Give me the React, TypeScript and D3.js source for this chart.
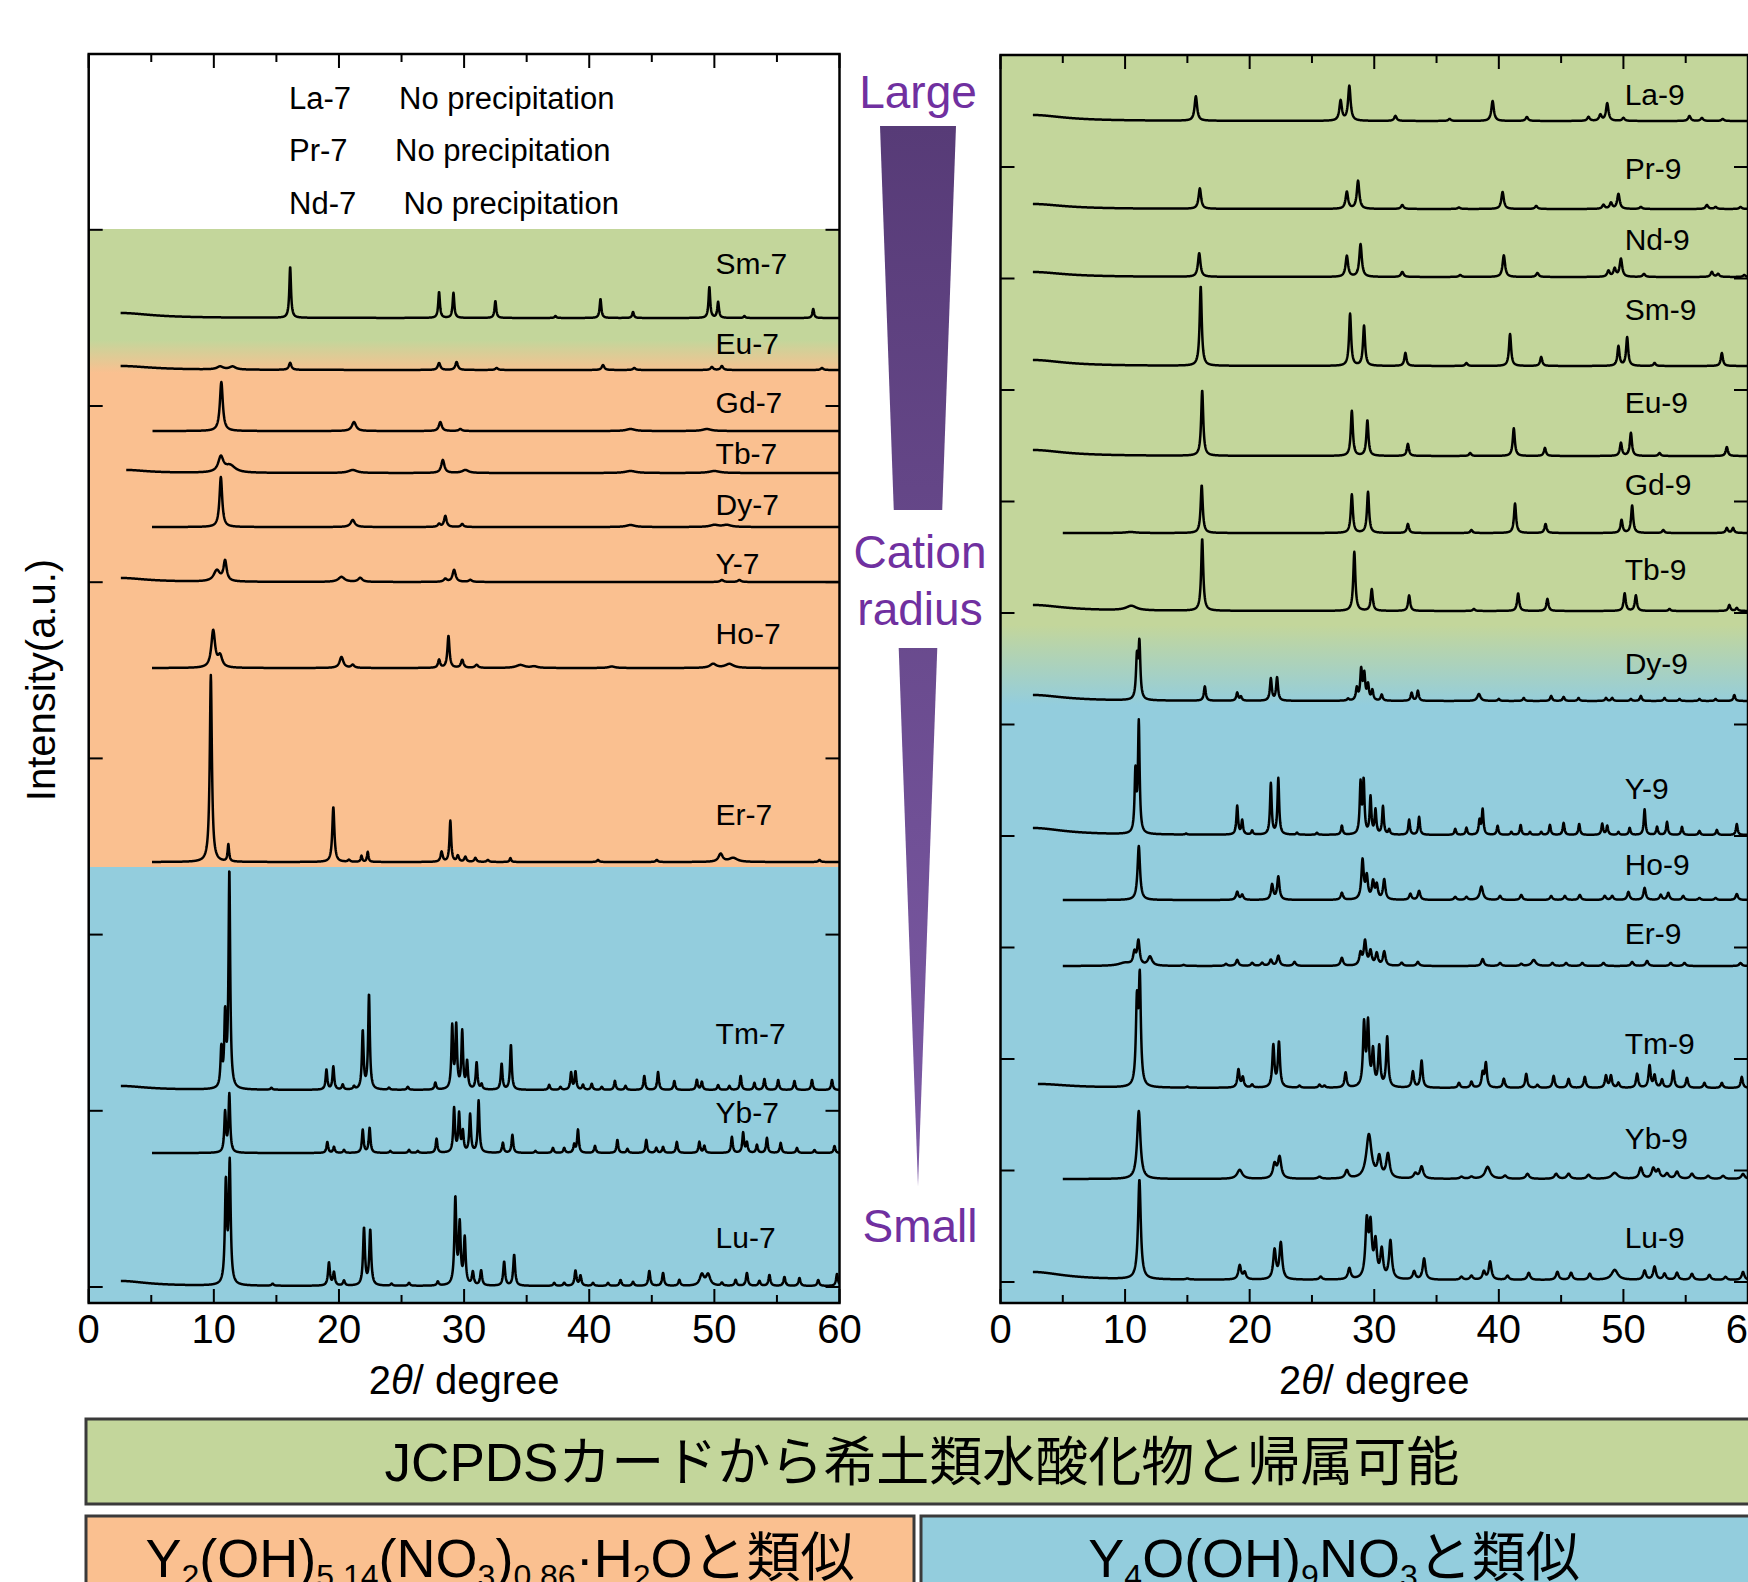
import React from "react";
import * as d3 from "d3";

const W = 1748;
const H = 1582;

// 2θ axis
const xTicks = [0, 10, 20, 30, 40, 50, 60];
const xMinor = [5, 15, 25, 35, 45, 55];

// peaks: [2θ, intensity (a.u.), half width (deg, optional)]
type Peak = number[];

// ---- left panel (pH 7) ----
const leftNames = ["Sm-7", "Eu-7", "Gd-7", "Tb-7", "Dy-7", "Y-7", "Ho-7", "Er-7", "Tm-7", "Yb-7", "Lu-7"];
const leftBase = [969, 917, 856, 814, 760, 705, 619, 425, 197, 134, 1];
const leftStart = [2.55, 2.55, 5.1, 3.0, 5.06, 2.57, 5.06, 5.06, 2.57, 5.06, 2.57];
const leftWidth = [0.08, 0.12, 0.14, 0.15, 0.12, 0.15, 0.15, 0.1, 0.08, 0.08, 0.09];
const leftLift = [55, 27, 29, 20, 23, 19, 35, 48, 57, 41, 49];
const leftPeaks: Peak[][] = [
  [[2.55, 5, 3], [16.1, 51], [28.0, 26], [29.15, 25], [32.5, 17], [37.3, 2], [40.9, 19], [43.5, 6], [49.6, 31], [50.3, 16], [52.4, 2], [57.9, 9]],
  [[2.55, 4, 3], [10.5, 3, 0.3], [11.5, 3, 0.3], [16.1, 7], [28.0, 7], [29.4, 8], [32.6, 2], [41.1, 5], [43.6, 2], [49.8, 3], [50.6, 4], [58.6, 2]],
  [[10.6, 49], [21.2, 9, 0.2], [28.1, 9], [29.7, 2], [43.3, 2, 0.4], [49.4, 2, 0.4]],
  [[3.0, 3, 2], [10.56, 15, 0.25], [11.3, 7, 0.5], [21.1, 3, 0.4], [28.3, 13, 0.15], [30.1, 3, 0.3], [43.3, 2, 0.5], [50.0, 2, 0.5]],
  [[10.56, 50, 0.13], [21.1, 7, 0.2], [28.0, 3], [28.5, 11], [29.85, 3], [43.3, 2, 0.4], [50.0, 2, 0.4], [51.0, 2, 0.4]],
  [[2.57, 4, 2.5], [10.24, 11, 0.3], [10.9, 20, 0.15], [20.2, 5, 0.3], [21.7, 4, 0.2], [28.5, 3], [29.2, 12], [30.5, 2], [50.6, 2], [52.0, 2]],
  [[9.95, 37, 0.18], [10.5, 11, 0.2], [20.2, 11, 0.18], [21.1, 3], [28.0, 8, 0.1], [28.75, 32, 0.1], [29.85, 8, 0.12], [31.0, 3], [34.5, 3, 0.4], [35.6, 1.5, 0.3], [41.8, 1.5, 0.3], [49.9, 4, 0.3], [51.2, 4, 0.4]],
  [[9.76, 187, 0.1], [11.16, 17, 0.07], [19.55, 55, 0.1], [20.8, 2], [21.8, 6, 0.07], [22.3, 10, 0.07], [28.2, 10], [28.9, 41, 0.08], [29.5, 6], [30.1, 5], [30.9, 4], [31.9, 2], [33.7, 4, 0.07], [40.7, 2], [45.4, 2], [50.5, 8, 0.2], [51.5, 4, 0.4], [58.4, 2]],
  [[2.57, 4, 2.5], [10.6, 38], [10.9, 70], [11.24, 217], [14.6, 2], [19.0, 20], [19.55, 23], [20.3, 5], [21.2, 3], [21.9, 58], [22.4, 95], [24.0, 2], [25.5, 3], [27.7, 7], [29.05, 62], [29.37, 62], [29.85, 57], [30.24, 27], [31.0, 27], [31.4, 5], [33.0, 26], [33.74, 45], [36.8, 5], [37.7, 3], [38.55, 17], [38.9, 18], [39.5, 5], [40.2, 6], [41.0, 3], [42.05, 9], [42.9, 4], [44.4, 14], [45.5, 18], [46.8, 9], [48.6, 10], [49.0, 8], [50.3, 5], [51.2, 4], [52.1, 14], [53.2, 7], [54.0, 11], [55.1, 10], [56.4, 9], [57.8, 10], [59.4, 10]],
  [[10.9, 40], [11.24, 58], [19.07, 11], [19.6, 6], [20.4, 3], [21.9, 23], [22.45, 25], [24.1, 2], [25.6, 3], [26.3, 2], [27.8, 14], [29.2, 44], [29.6, 38], [29.9, 20], [30.48, 38], [31.16, 52], [33.1, 10], [33.86, 18], [35.7, 2], [37.1, 5], [38.0, 5], [38.8, 8], [39.1, 23], [40.46, 7], [42.25, 13], [43.05, 4], [44.56, 13], [45.36, 5], [45.9, 6], [47.0, 11], [48.8, 11], [49.2, 7], [51.4, 16], [52.3, 20], [52.6, 10], [53.4, 8], [54.2, 15], [55.3, 10], [56.6, 5], [58.0, 3], [59.6, 7]],
  [[2.57, 5, 2.5], [10.96, 100], [11.27, 120], [14.7, 2], [19.2, 23], [19.6, 13], [20.4, 5], [22.0, 57], [22.5, 55], [24.2, 2], [25.6, 3], [27.9, 4], [29.3, 86], [29.65, 59], [30.05, 46], [30.7, 13], [31.36, 15], [33.2, 24], [34.0, 31], [37.2, 3], [38.0, 3], [38.9, 15], [39.3, 10], [40.3, 3], [41.5, 3], [42.5, 6], [43.5, 4], [44.8, 15], [45.9, 13], [47.2, 6], [49.0, 11, 0.2], [49.5, 11, 0.2], [50.6, 3], [51.7, 6], [52.6, 13], [53.6, 5], [54.4, 11], [55.6, 9], [56.8, 8], [58.3, 6], [59.8, 12]],
];
const noPrecip = ["La-7", "Pr-7", "Nd-7"];

// ---- right panel (pH 9) ----
const rightNames = ["La-9", "Pr-9", "Nd-9", "Sm-9", "Eu-9", "Gd-9", "Tb-9", "Dy-9", "Y-9", "Ho-9", "Er-9", "Tm-9", "Yb-9", "Lu-9"];
const rightBase = [1161, 1073, 1005, 916, 826, 749, 671, 581, 447, 382, 316, 194, 103, 2];
const rightStart = [2.6, 2.6, 2.6, 2.6, 2.6, 5.0, 2.6, 2.6, 2.6, 5.0, 5.0, 3.0, 5.0, 2.6];
const rightWidth = [0.12, 0.12, 0.12, 0.1, 0.1, 0.1, 0.1, 0.09, 0.08, 0.11, 0.12, 0.1, 0.16, 0.13];
const rightLift = [27, 41, 38, 57, 54, 49, 42, 38, 47, 36, 33, 45, 41, 43];
const rightPeaks: Peak[][] = [
  [[2.6, 6, 3], [15.68, 24.5], [27.3, 20], [28.0, 34.7], [31.7, 5], [36.05, 2], [39.5, 20], [42.25, 4], [47.2, 4], [48.15, 6], [48.7, 17.5], [50.0, 3], [55.3, 5], [56.3, 3], [57.97, 2]],
  [[2.6, 5, 3], [16.0, 20.4], [27.8, 17], [28.7, 28], [32.25, 4], [36.8, 1.5], [40.3, 17], [43.0, 3], [48.4, 4], [49.0, 6], [49.6, 15], [51.4, 2], [56.7, 4], [57.4, 2], [59.4, 2]],
  [[2.6, 5, 3], [15.95, 23.7], [27.8, 21], [28.9, 32.6], [32.25, 5], [36.9, 2], [40.4, 21.6], [43.1, 4], [48.8, 6], [49.3, 8], [49.8, 18], [51.65, 3], [57.1, 5], [57.6, 3], [59.7, 2]],
  [[2.6, 6, 3], [16.07, 79.5], [28.06, 52], [29.18, 40], [32.5, 13], [37.4, 3], [40.9, 32], [43.4, 9], [49.6, 19.6], [50.3, 28.5], [52.5, 3], [57.9, 13]],
  [[2.6, 6, 3], [16.19, 65.3], [28.2, 45], [29.45, 35.5], [32.7, 12], [37.7, 3], [41.2, 27.7], [43.7, 8], [49.8, 13], [50.6, 23], [52.9, 3], [58.3, 9]],
  [[10.45, 1, 0.5], [16.15, 47.8], [28.2, 38.4], [29.5, 41], [32.7, 9], [37.8, 3], [41.3, 29.4], [43.75, 9], [49.85, 13], [50.7, 27.4], [53.2, 3], [58.3, 5], [58.8, 5]],
  [[2.6, 6, 3], [10.5, 4.5, 0.5], [16.19, 71.8], [28.4, 59], [29.8, 21.6], [32.8, 15.5], [38.0, 2], [41.55, 17.6], [43.9, 12], [50.1, 17.6], [51.0, 15.5], [53.7, 2], [58.5, 6], [59.1, 3]],
  [[2.6, 6, 3], [10.95, 40], [11.15, 55], [16.4, 14.3], [19.0, 8], [19.3, 4], [21.7, 22], [22.2, 23], [27.9, 2], [28.6, 12], [28.95, 30], [29.2, 25], [29.5, 15], [29.85, 10], [30.6, 6], [33.0, 8], [33.5, 10], [38.4, 7, 0.15], [40.0, 2], [42.0, 3], [44.2, 5], [45.2, 4], [46.4, 3], [48.6, 3], [49.1, 3], [50.6, 2], [51.4, 5], [53.3, 3], [54.5, 2], [56.1, 2], [57.4, 2], [58.9, 6]],
  [[2.6, 7, 3], [10.83, 60], [11.1, 110], [14.9, 1], [19.0, 28.6], [19.4, 14], [20.2, 4], [21.7, 51], [22.3, 56], [23.8, 2], [25.4, 2], [27.4, 9], [28.9, 50], [29.15, 52], [29.7, 37], [30.1, 24], [30.7, 28], [31.2, 5], [32.8, 15], [33.6, 18], [36.5, 6], [37.4, 7], [38.45, 14], [38.7, 25], [39.9, 9], [41.0, 3], [41.75, 10], [42.5, 3], [43.4, 3], [44.1, 10], [45.2, 12], [46.45, 11], [48.3, 11], [48.7, 9], [49.6, 3], [50.5, 7], [51.7, 25.5], [52.7, 8], [53.5, 13], [54.7, 8], [56.1, 4], [57.5, 5], [59.1, 11]],
  [[11.1, 54, 0.12], [19.0, 8], [19.4, 5], [21.8, 15], [22.3, 23], [27.4, 7], [29.06, 39], [29.4, 22], [29.9, 17], [30.2, 14], [30.8, 20], [32.9, 6], [33.6, 9], [36.5, 3], [37.4, 3], [38.6, 13.4, 0.15], [40.1, 4], [41.8, 5], [44.2, 4], [45.3, 4], [46.5, 5], [48.5, 4], [49.1, 4], [50.4, 8], [51.7, 12], [53.0, 5], [53.6, 7], [54.8, 4], [56.1, 2], [57.4, 2], [59.1, 6]],
  [[10.0, 3, 0.6], [10.75, 12], [11.07, 24], [12.0, 9, 0.2], [14.7, 1], [18.1, 2], [19.0, 6], [20.2, 3], [21.0, 3], [21.7, 6], [22.3, 10], [23.6, 4], [27.4, 8], [28.9, 12], [29.26, 24], [29.7, 14], [30.2, 12], [30.8, 14], [32.2, 3], [33.5, 4], [38.7, 7], [40.1, 3], [41.8, 2], [42.8, 6, 0.2], [44.3, 3], [45.4, 3], [46.7, 3], [48.4, 3], [50.7, 4], [51.9, 5], [53.8, 3], [54.9, 3], [59.4, 3]],
  [[3.0, 4, 3], [10.95, 80], [11.18, 105], [15.0, 1], [19.1, 18], [19.45, 10], [20.2, 3], [21.9, 41.6], [22.35, 44.7], [24.0, 2], [25.6, 3], [26.0, 2], [27.7, 15], [29.18, 62], [29.5, 62], [29.9, 35], [30.4, 40], [31.04, 50], [33.1, 16], [33.8, 27], [36.8, 5], [37.8, 6], [38.7, 14], [38.96, 24], [40.4, 9], [42.2, 14], [43.1, 3], [44.4, 12], [45.6, 9], [46.9, 11], [48.6, 12], [49.0, 12], [49.6, 5], [51.1, 14], [52.1, 22], [52.5, 12], [53.1, 8], [54.0, 17], [55.1, 10], [56.5, 5], [57.9, 5], [59.5, 11]],
  [[11.1, 68, 0.16], [19.2, 9, 0.25], [22.0, 14], [22.4, 21], [25.6, 2], [27.8, 8], [29.57, 44, 0.25], [30.4, 20], [31.1, 24], [33.3, 5], [33.8, 12], [37.0, 2], [37.8, 2], [39.1, 12, 0.25], [40.5, 3], [42.3, 5], [44.6, 5], [45.6, 5], [47.2, 4], [49.3, 6, 0.3], [51.4, 11], [52.4, 10], [52.8, 8], [53.5, 5], [54.3, 7], [55.5, 5], [56.8, 3], [58.0, 3], [59.6, 5]],
  [[2.6, 8, 3], [11.15, 99.5, 0.13], [15.0, 1], [19.2, 14], [19.6, 7], [22.0, 29], [22.5, 36], [25.7, 3], [28.0, 11], [29.4, 55], [29.7, 50], [30.1, 35], [30.6, 28], [31.3, 38], [33.2, 8], [34.0, 21], [37.0, 3], [37.8, 4], [38.8, 8], [39.3, 18], [40.7, 4], [42.4, 7], [44.7, 8], [45.8, 7], [47.3, 6], [49.3, 10, 0.3], [51.7, 9], [52.5, 13], [53.3, 6], [54.3, 7], [55.5, 6], [56.9, 5], [58.2, 3], [59.6, 8]],
];

const GREEN = "#C3D69B";
const ORANGE = "#FAC090";
const BLUE = "#93CDDD";
const PURPLE = "#7030A0";
const FONT = '"Liberation Sans", Arial, "Noto Sans CJK JP", sans-serif';

function profile(peaks: Peak[], base: number, start: number, w: number) {
  return d3.range(start, 60.0001, 0.02).map((t) => {
    let v = base;
    for (const p of peaks) {
      const hw = p[2] ?? w;
      const d = (t - p[0]) / hw;
      v += p[1] / (1 + d * d);
    }
    return [t, v] as [number, number];
  });
}

function Panel(props: any) {
  const { id, x0, x1, yTop, yBot, domain, step, nTicks, stops, names, base, start, width, peaks, lift, children } = props;
  const x = d3.scaleLinear().domain([0, 60]).range([x0, x1]);
  const y = d3.scaleLinear().domain(domain).range([yBot, yTop]);
  const line = d3.line<[number, number]>().x((d) => x(d[0])).y((d) => y(d[1]));
  const yTicks = d3.range(nTicks).map((k) => k * step);
  const hgt = yBot - yTop;

  return (
    <g>
      <defs>
        <linearGradient id={`bg-${id}`} x1="0" y1="0" x2="0" y2="1">
          {stops.map((s: any, i: number) => (
            <stop key={i} offset={(y(s[0]) - yTop) / hgt} stopColor={s[1]} />
          ))}
        </linearGradient>
        <clipPath id={`clip-${id}`}>
          <rect x={x0} y={yTop} width={x1 - x0} height={hgt} />
        </clipPath>
      </defs>
      <rect x={x0} y={yTop} width={x1 - x0} height={hgt} fill={`url(#bg-${id})`} />
      <g clipPath={`url(#clip-${id})`}>
        {names.map((n: string, i: number) => (
          <path key={n} d={line(profile(peaks[i], base[i], start[i], width[i])) || ""}
            fill="none" stroke="#000" strokeWidth={2.5} strokeLinejoin="round" />
        ))}
      </g>
      {names.map((n: string, i: number) => (
        <text key={n} x={x(50.1)} y={y(base[i] + lift[i])} dominantBaseline="central"
          fontFamily={FONT} fontSize={30} fill="#000">{n}</text>
      ))}
      {children && children(x, y)}
      {/* ticks, pointing inward */}
      <g stroke="#000" strokeWidth={2}>
        {xTicks.map((t) => (
          <g key={t}>
            <line x1={x(t)} x2={x(t)} y1={yBot} y2={yBot - 14} />
            <line x1={x(t)} x2={x(t)} y1={yTop} y2={yTop + 14} />
          </g>
        ))}
        {xMinor.map((t) => (
          <g key={t}>
            <line x1={x(t)} x2={x(t)} y1={yBot} y2={yBot - 8} />
            <line x1={x(t)} x2={x(t)} y1={yTop} y2={yTop + 8} />
          </g>
        ))}
        {yTicks.map((v) => (
          <g key={v}>
            <line x1={x0} x2={x0 + 14} y1={y(v)} y2={y(v)} />
            <line x1={x1} x2={x1 - 14} y1={y(v)} y2={y(v)} />
          </g>
        ))}
      </g>
      <rect x={x0} y={yTop} width={x1 - x0} height={hgt} fill="none" stroke="#000" strokeWidth={2.5} />
      {xTicks.map((t) => (
        <text key={t} x={x(t)} y={1329} textAnchor="middle" dominantBaseline="central"
          fontFamily={FONT} fontSize={40} fill="#000">{t}</text>
      ))}
      <text x={(x0 + x1) / 2} y={1380} textAnchor="middle" dominantBaseline="central"
        fontFamily={FONT} fontSize={40} fill="#000">
        2<tspan fontStyle="italic">θ</tspan>/ degree
      </text>
    </g>
  );
}

export default function App() {
  return (
    <svg width={W} height={H} viewBox={`0 0 ${W} ${H}`}
      style={{ position: "absolute", left: 0, top: 0, display: "block", background: "#fff" }}>
      <defs>
        <linearGradient id="wedge" x1="0" y1="0" x2="0" y2="1">
          <stop offset="0" stopColor="#573B77" />
          <stop offset="1" stopColor="#7D5BA6" />
        </linearGradient>
      </defs>

      <Panel id="l" x0={88.7} x1={839.5} yTop={54} yBot={1303} domain={[-16, 1233]}
        step={176.2} nTicks={7}
        stops={[[1233, "#fff"], [1058, "#fff"], [1058, GREEN], [947, GREEN], [914, ORANGE], [420, ORANGE], [420, BLUE], [-16, BLUE]]}
        names={leftNames} base={leftBase} start={leftStart} width={leftWidth} peaks={leftPeaks} lift={leftLift}>
        {() =>
          noPrecip.map((n, i) => (
            <g key={n} fontFamily={FONT} fontSize={31} fill="#000">
              <text x={289} y={98 + i * 52.5} dominantBaseline="central">{n}</text>
              <text x={[399, 395, 403.6][i]} y={98 + i * 52.5} dominantBaseline="central">No precipitation</text>
            </g>
          ))
        }
      </Panel>

      <Panel id="r" x0={1000.5} x1={1748} yTop={55} yBot={1303} domain={[-21, 1227]}
        step={111.5} nTicks={11}
        stops={[[1227, GREEN], [657, GREEN], [577, BLUE], [-21, BLUE]]}
        names={rightNames} base={rightBase} start={rightStart} width={rightWidth} peaks={rightPeaks} lift={rightLift} />

      {/* cation radius wedge */}
      <polygon points="880,126 956,126 918,1186" fill="url(#wedge)" />
      <rect x={846} y={510} width={148} height={138} fill="#fff" />
      <g fontFamily={FONT} fontSize={46} fill={PURPLE} textAnchor="middle">
        <text x={918} y={92} dominantBaseline="central">Large</text>
        <text x={920} y={552} dominantBaseline="central">Cation</text>
        <text x={920} y={609} dominantBaseline="central">radius</text>
        <text x={920} y={1226} dominantBaseline="central">Small</text>
      </g>

      <text transform="translate(41,680) rotate(-90)" textAnchor="middle" dominantBaseline="central"
        fontFamily={FONT} fontSize={40} fill="#000">Intensity(a.u.)</text>

      {/* classification boxes */}
      <rect x={86} y={1419} width={1700} height={85} fill={GREEN} stroke="#3a3a3a" strokeWidth={3} />
      <text x={922} y={1462} textAnchor="middle" dominantBaseline="central" fontFamily={FONT} fontSize={53} fill="#000">
        JCPDSカードから希土類水酸化物と帰属可能
      </text>
      <rect x={86} y={1516} width={828} height={100} fill={ORANGE} stroke="#3a3a3a" strokeWidth={3} />
      <rect x={921} y={1516} width={860} height={100} fill={BLUE} stroke="#3a3a3a" strokeWidth={3} />
      <g fontFamily={FONT} fontSize={54} fill="#000" textAnchor="middle">
        <text x={500} y={1577}>
          Y<tspan fontSize={32} dy={10}>2</tspan>
          <tspan dy={-10}>(OH)</tspan>
          <tspan fontSize={32} dy={10}>5.14</tspan>
          <tspan dy={-10}>(NO</tspan>
          <tspan fontSize={32} dy={10}>3</tspan>
          <tspan dy={-10}>)</tspan>
          <tspan fontSize={32} dy={10}>0.86</tspan>
          <tspan dy={-10}>·H</tspan>
          <tspan fontSize={32} dy={10}>2</tspan>
          <tspan dy={-10}>Oと類似</tspan>
        </text>
        <text x={1334} y={1577}>
          Y<tspan fontSize={32} dy={10}>4</tspan>
          <tspan dy={-10}>O(OH)</tspan>
          <tspan fontSize={32} dy={10}>9</tspan>
          <tspan dy={-10}>NO</tspan>
          <tspan fontSize={32} dy={10}>3</tspan>
          <tspan dy={-10}>と類似</tspan>
        </text>
      </g>
    </svg>
  );
}
